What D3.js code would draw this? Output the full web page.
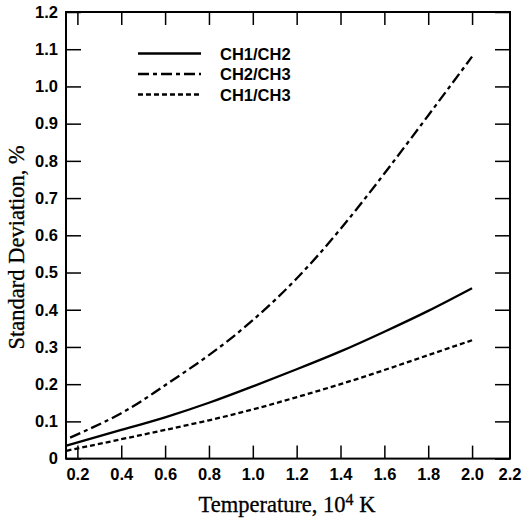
<!DOCTYPE html>
<meta charset="utf-8">
<style>
body { margin: 0; background: #fff; }
.tick text { font-family: "Liberation Sans", Arial, sans-serif; font-weight: bold; font-size: 16.5px; fill: #000; }
.title { font-family: "Liberation Serif", "Times New Roman", serif; font-size: 22.5px; fill: #000; stroke: #000; stroke-width: 0.3px; }
.legend text { font-family: "Liberation Sans", Arial, sans-serif; font-weight: bold; font-size: 16.5px; fill: #000; }
</style>
<body>
<div id="chart"></div>
<script src="https://d3js.org/d3.v7.min.js"></script>
<script>
// temperature, 10^4 K
var temps = [0.15, 0.4, 0.6, 0.8, 1.0, 1.2, 1.4, 1.6, 1.8, 2.0]

// standard deviation, %
var ch1ch2 = [0.035, 0.077, 0.111, 0.150, 0.194, 0.240, 0.288, 0.341, 0.397, 0.458]
var ch2ch3 = [0.052, 0.122, 0.197, 0.278, 0.372, 0.484, 0.617, 0.766, 0.922, 1.080]
var ch1ch3 = [0.021, 0.052, 0.077, 0.103, 0.132, 0.165, 0.200, 0.238, 0.278, 0.318]

var seriesNames = ['CH1/CH2', 'CH2/CH3', 'CH1/CH3']
var xTicks = [0.2, 0.4, 0.6, 0.8, 1.0, 1.2, 1.4, 1.6, 1.8, 2.0, 2.2]
var yTicks = [0, 0.1, 0.2, 0.3, 0.4, 0.5, 0.6, 0.7, 0.8, 0.9, 1.0, 1.1, 1.2]

var series = [
    { name: seriesNames[0], values: ch1ch2, dash: null, offset: 0 },
    { name: seriesNames[1], values: ch2ch3, dash: '11,4,4,4', offset: -4 },
    { name: seriesNames[2], values: ch1ch3, dash: '5,3', offset: 0 }
]

var margin = { top: 12, right: 12, bottom: 64.4, left: 66 }
var width = 522 - margin.left - margin.right
var height = 523 - margin.top - margin.bottom

var x = d3.scaleLinear().domain([0.148, 2.173]).range([0, width])
var y = d3.scaleLinear().domain([0, 1.2]).range([height, 0])

var svg = d3.select('#chart')
    .append('svg')
    .attr('width', 522)
    .attr('height', 523)
    .append('g')
    .attr('transform', 'translate(' + margin.left + ',' + margin.top + ')')

var fmt = function (d) { return d === 0 ? '0' : d3.format('.1f')(d) }

// axes, ticks pointing inward
var gx = svg.append('g')
    .attr('transform', 'translate(0,' + height + ')')
    .call(d3.axisBottom(x).tickValues(xTicks).tickSize(-13).tickPadding(10).tickFormat(fmt))
var outside = gx.selectAll('.tick').filter(function (d) { return d > x.domain()[1] })
outside.select('line').remove()
outside.select('text').attr('text-anchor', 'end').attr('x', 5)

svg.append('g')
    .call(d3.axisLeft(y).tickValues(yTicks).tickSize(-15).tickPadding(8).tickFormat(fmt))

svg.append('g')
    .call(d3.axisTop(x).tickValues(xTicks.filter(function (d) { return d <= x.domain()[1] }))
        .tickSize(-13).tickFormat(''))

svg.append('g')
    .attr('transform', 'translate(' + width + ',0)')
    .call(d3.axisRight(y).tickValues(yTicks).tickSize(-15).tickFormat(''))

svg.selectAll('.domain').remove()
svg.selectAll('.tick line').attr('stroke', '#000').attr('stroke-width', 1.5)

svg.append('rect')
    .attr('width', width)
    .attr('height', height)
    .attr('fill', 'none')
    .attr('stroke', '#000')
    .attr('stroke-width', 2)

// curves
var line = d3.line()
    .x(function (d, i) { return x(temps[i]) })
    .y(function (d) { return y(d) })
    .curve(d3.curveNatural)

svg.selectAll('.series')
    .data(series)
    .enter()
    .append('path')
    .attr('class', 'series')
    .attr('d', function (d) { return line(d.values) })
    .attr('fill', 'none')
    .attr('stroke', '#000')
    .attr('stroke-width', 2.3)
    .attr('stroke-dasharray', function (d) { return d.dash })
    .attr('stroke-dashoffset', function (d) { return d.offset })

// legend
var legend = svg.append('g').attr('class', 'legend')
var items = legend.selectAll('g')
    .data(series)
    .enter()
    .append('g')
    .attr('transform', function (d, i) { return 'translate(72,' + (41.5 + i * 20.5) + ')' })
items.append('line')
    .attr('x1', 0)
    .attr('x2', 63)
    .attr('stroke', '#000')
    .attr('stroke-width', 2.3)
    .attr('stroke-dasharray', function (d) { return d.dash })
items.append('text')
    .attr('x', 82)
    .attr('y', 6)
    .text(function (d) { return d.name })

// axis titles
svg.append('text')
    .attr('class', 'title')
    .attr('x', 221)
    .attr('y', height + 53)
    .attr('text-anchor', 'middle')
    .html('Temperature, 10<tspan dy="-7" font-size="16px">4</tspan><tspan dy="7"> K</tspan>')

svg.append('text')
    .attr('class', 'title')
    .attr('transform', 'translate(-42,' + (height / 2 + 12) + ') rotate(-90)')
    .attr('text-anchor', 'middle')
    .text('Standard Deviation, %')
</script>
</body>
